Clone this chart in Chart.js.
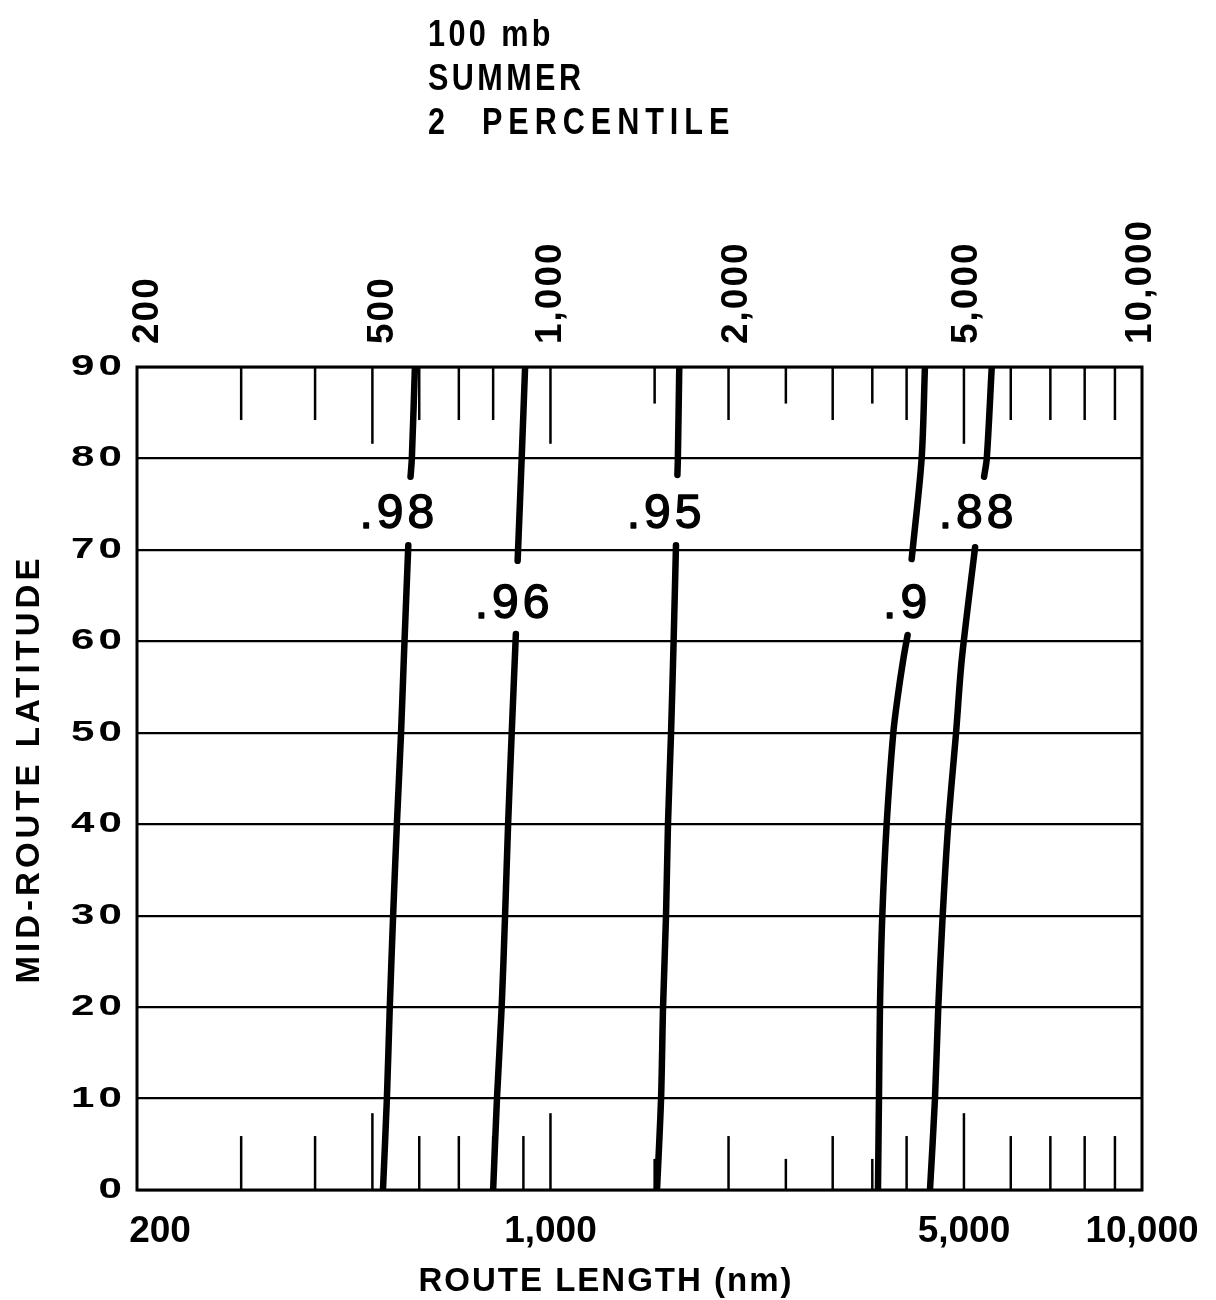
<!DOCTYPE html>
<html><head><meta charset="utf-8">
<script src="https://cdn.jsdelivr.net/npm/chart.js@4/dist/chart.umd.min.js"></script>
<style>html,body{margin:0;padding:0;background:#fff;} #wrap{width:1216px;height:1300px;position:relative;}</style>
</head><body><div id="wrap"><canvas id="c" width="1216" height="1300"></canvas></div>
<script>
// ---------------- DATA ----------------
const headerLines = ["100 mb", "SUMMER"];
const headerPercentile = ["2", "PERCENTILE"];
const xTitle = "ROUTE LENGTH (nm)";
const yTitle = "MID-ROUTE LATITUDE";

const yTickValues = [0, 10, 20, 30, 40, 50, 60, 70, 80, 90];
const xBottomLabelValues = [200, 1000, 5000, 10000];
const xBottomLabelTexts = ["200", "1,000", "5,000", "10,000"];
const xTopLabelValues = [200, 500, 1000, 2000, 5000, 10000];
const xTopLabelTexts = ["200", "500", "1,000", "2,000", "5,000", "10,000"];

const tickValues = [300, 400, 500, 600, 700, 800, 900, 1000, 1500, 2000, 2500, 3000, 3500, 4000, 5000, 6000, 7000, 8000, 9000];
const tickKinds  = ["n", "n", "L", "n", "n", "n", "n", "L", "s", "n", "s", "n", "s", "n", "L", "n", "n", "n", "n"];

// curve .98
const lat98Low = [0, 10, 20, 30, 40, 50, 58, 70.5];
const len98Low = [521, 529, 535, 542, 550, 559, 565, 575];
const lat98High = [78, 80, 90];
const len98High = [580, 583, 590];
// curve .96
const lat96Low = [0, 10, 20, 30, 40, 50, 60.8];
const len96Low = [800, 812, 827, 838, 848, 860, 874];
const lat96High = [68.8, 80, 90];
const len96High = [880, 894, 906];
// curve .95
const lat95Low = [0, 10, 20, 30, 40, 50, 60, 70.5];
const len95Low = [1514, 1538, 1550, 1568, 1580, 1599, 1615, 1630];
const lat95High = [78.2, 80, 90];
const len95High = [1639, 1642, 1651];
// curve .9
const lat90Low = [0, 10, 20, 30, 40, 50, 54, 58, 60.7];
const len90Low = [3578, 3592, 3606, 3639, 3701, 3798, 3865, 3948, 4016];
const lat90High = [69, 70, 80, 90];
const len90High = [4079, 4095, 4241, 4296];
// curve .88
const lat88Low = [0, 10, 20, 30, 40, 50, 58, 70.3];
const len88Low = [4381, 4467, 4525, 4603, 4704, 4849, 4958, 5222];
const lat88High = [78, 80, 90];
const len88High = [5408, 5465, 5572];

// curve labels (anchored in data units)
const curveLabelTexts = [".98", ".96", ".95", ".9", ".88"];
const curveLabelLen = [550, 861, 1556, 3976, 5242];
const curveLabelLat = [73.8, 64.0, 73.8, 64.0, 73.8];

// ---------------- STYLE ----------------
const FONT = '"Liberation Sans", Arial, sans-serif';
const INK = '#000';
const tickLenBottom = { n: 5.9, L: 8.4, s: 3.4 };
const tickLenTop = { n: 5.8, L: 8.4, s: 4.0 };
const topLabelDx = [11, 10, 0, 8, 3, -1];
const bottomLabelDx = [23, 0, 0, 0];

function pts(xs, ys) { return xs.map((x, i) => ({ x: x, y: ys[i] })); }
function curve(xs, ys) {
  return { data: pts(xs, ys), showLine: true, borderColor: INK, borderWidth: 6.5,
    pointRadius: 0, tension: 0.3, borderCapStyle: 'round', borderJoinStyle: 'round', fill: false };
}

function txt(ctx, text, x, y, o) {
  ctx.save();
  ctx.translate(x, y);
  if (o.rot) ctx.rotate(o.rot);
  ctx.scale(o.sx || 1, 1);
  ctx.font = o.font;
  const sp = o.spacing || 0;
  ctx.letterSpacing = sp + 'px';
  ctx.textBaseline = o.baseline || 'middle';
  ctx.textAlign = 'left';
  ctx.fillStyle = INK;
  const w = ctx.measureText(text).width - sp;
  let off = 0;
  if (o.align === 'center') off = -w / 2;
  else if (o.align === 'right') off = -w;
  ctx.fillText(text, off, 0);
  if (o.stroke) {
    ctx.strokeStyle = INK;
    ctx.lineWidth = o.stroke;
    ctx.lineJoin = 'round';
    ctx.strokeText(text, off, 0);
  }
  ctx.restore();
}

const decor = {
  id: 'decor',
  beforeDatasetsDraw(chart) {
    const ctx = chart.ctx, xs = chart.scales.x, ys = chart.scales.y, a = chart.chartArea;
    ctx.save();
    ctx.strokeStyle = INK;
    ctx.lineWidth = 2.5;
    ctx.lineCap = 'butt';
    tickValues.forEach((v, i) => {
      const px = xs.getPixelForValue(v);
      const k = tickKinds[i];
      ctx.beginPath();
      ctx.moveTo(px, ys.getPixelForValue(0));
      ctx.lineTo(px, ys.getPixelForValue(tickLenBottom[k]));
      ctx.stroke();
      ctx.beginPath();
      ctx.moveTo(px, ys.getPixelForValue(90));
      ctx.lineTo(px, ys.getPixelForValue(90 - tickLenTop[k]));
      ctx.stroke();
    });
    ctx.lineWidth = 3;
    ctx.strokeRect(a.left, a.top, a.right - a.left, a.bottom - a.top);
    ctx.restore();
  },
  afterDraw(chart) {
    const ctx = chart.ctx, xs = chart.scales.x, ys = chart.scales.y, a = chart.chartArea;
    // curve labels
    curveLabelTexts.forEach((t, i) => {
      txt(ctx, t, xs.getPixelForValue(curveLabelLen[i]), ys.getPixelForValue(curveLabelLat[i]),
        { font: '48px ' + FONT, spacing: 4, align: 'center', stroke: 1.4 });
    });
    // y tick labels
    yTickValues.forEach(v => {
      txt(ctx, String(v), 122, ys.getPixelForValue(v), { font: 'bold 29px ' + FONT, sx: 1.45, spacing: 3, align: 'right' });
    });
    // bottom x labels
    xBottomLabelValues.forEach((v, i) => {
      txt(ctx, xBottomLabelTexts[i], xs.getPixelForValue(v) + bottomLabelDx[i], 1232,
        { font: 'bold 37px ' + FONT, align: 'center' });
    });
    // top x labels (rotated)
    xTopLabelValues.forEach((v, i) => {
      txt(ctx, xTopLabelTexts[i], xs.getPixelForValue(v) + topLabelDx[i], 344,
        { font: 'bold 37px ' + FONT, spacing: 2, align: 'left', rot: -Math.PI / 2 });
    });
    // axis titles
    txt(ctx, xTitle, 605, 1282, { font: 'bold 33px ' + FONT, spacing: 2, align: 'center' });
    txt(ctx, yTitle, 30, 771, { font: 'bold 33px ' + FONT, spacing: 4, align: 'center', rot: -Math.PI / 2 });
    // header
    txt(ctx, headerLines[0], 428, 36, { font: 'bold 36px ' + FONT, sx: 0.85, spacing: 4, align: 'left' });
    txt(ctx, headerLines[1], 428, 80, { font: 'bold 36px ' + FONT, sx: 0.85, spacing: 4, align: 'left' });
    txt(ctx, headerPercentile[0], 428, 124, { font: 'bold 36px ' + FONT, sx: 0.85, spacing: 4, align: 'left' });
    txt(ctx, headerPercentile[1], 482, 124, { font: 'bold 36px ' + FONT, sx: 0.85, spacing: 7, align: 'left' });
  }
};

new Chart(document.getElementById('c'), {
  type: 'scatter',
  data: {
    datasets: [
      curve(len98Low, lat98Low), curve(len98High, lat98High),
      curve(len96Low, lat96Low), curve(len96High, lat96High),
      curve(len95Low, lat95Low), curve(len95High, lat95High),
      curve(len90Low, lat90Low), curve(len90High, lat90High),
      curve(len88Low, lat88Low), curve(len88High, lat88High)
    ]
  },
  options: {
    responsive: false, animation: false, devicePixelRatio: 1,
    layout: { padding: { left: 137, right: 74, top: 367, bottom: 110 } },
    plugins: { legend: { display: false }, tooltip: { enabled: false } },
    scales: {
      x: { type: 'logarithmic', min: 200, max: 10000,
        ticks: { display: false }, grid: { display: false, drawTicks: false }, border: { display: false } },
      y: { type: 'linear', min: 0, max: 90,
        ticks: { display: false, stepSize: 10 }, grid: { color: INK, lineWidth: 2.3, drawTicks: false }, border: { display: false } }
    }
  },
  plugins: [decor]
});
</script>
</body></html>
